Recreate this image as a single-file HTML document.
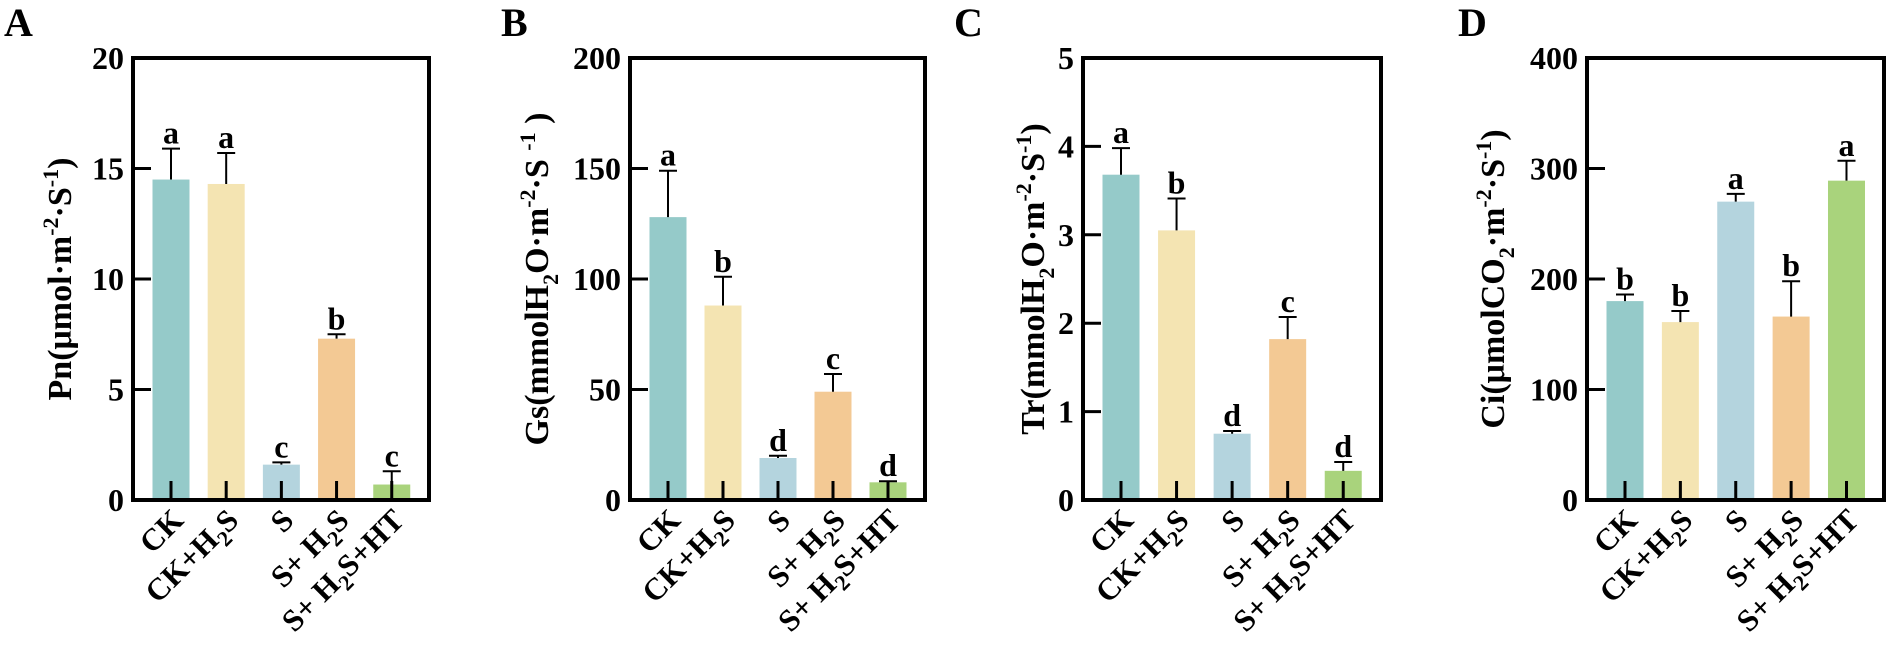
<!DOCTYPE html>
<html><head><meta charset="utf-8"><style>
html,body{margin:0;padding:0;background:#fff;width:1890px;height:654px;overflow:hidden}
svg{display:block;font-family:"Liberation Serif",serif;font-weight:bold}
</style></head><body>
<svg id="fig" width="1890" height="654" viewBox="0 0 1890 654" xmlns="http://www.w3.org/2000/svg"></svg>
<script>
const categories=["CK","CK+H2S","S","S+ H2S","S+ H2S+HT"];
const pnVals=[14.5,14.3,1.6,7.3,0.7];
const pnErr=[1.4,1.4,0.1,0.2,0.6];
const pnSig=["a","a","c","b","c"];
const gsVals=[128,88,19,49,8];
const gsErr=[21,13,1,8,0.5];
const gsSig=["a","b","d","c","d"];
const trVals=[3.68,3.05,0.75,1.82,0.33];
const trErr=[0.3,0.36,0.03,0.25,0.1];
const trSig=["a","b","d","c","d"];
const ciVals=[180,161,270,166,289];
const ciErr=[6,10,7,32,18];
const ciSig=["b","b","a","b","a"];
const pnTicks=[0,5,10,15,20];
const gsTicks=[0,50,100,150,200];
const trTicks=[0,1,2,3,4,5];
const ciTicks=[0,100,200,300,400];
const colors=["#95cac9","#f4e4b2","#b4d4de","#f3c994","#a9d37c"];
const NS="http://www.w3.org/2000/svg";
const svg=document.getElementById('fig');
function mk(tag,attrs,parent){const e=document.createElementNS(NS,tag);for(const k in attrs)e.setAttribute(k,attrs[k]);(parent||svg).appendChild(e);return e;}
const TOP=58,BOT=500;
const panels=[
 {id:"a",letter:"A",left:133,w:296,max:20,ticks:pnTicks,vals:pnVals,err:pnErr,sig:pnSig,tx:60,title:'Pn(μmol·m<tspan dy="-13" font-size="22">-2</tspan><tspan dy="13">·S</tspan><tspan dy="-13" font-size="22">-1</tspan><tspan dy="13">)</tspan>'},
 {id:"b",letter:"B",left:630,w:295,max:200,ticks:gsTicks,vals:gsVals,err:gsErr,sig:gsSig,tx:537,title:'Gs(mmolH<tspan dy="10" font-size="22">2</tspan><tspan dy="-10">O·m</tspan><tspan dy="-13" font-size="22">-2</tspan><tspan dy="13">·S </tspan><tspan dy="-13" font-size="22">-1</tspan><tspan dy="13"> )</tspan>'},
 {id:"c",letter:"C",left:1083,w:298,max:5,ticks:trTicks,vals:trVals,err:trErr,sig:trSig,tx:1033,title:'Tr(mmolH<tspan dy="10" font-size="22">2</tspan><tspan dy="-10">O·m</tspan><tspan dy="-13" font-size="22">-2</tspan><tspan dy="13">·S</tspan><tspan dy="-13" font-size="22">-1</tspan><tspan dy="13">)</tspan>'},
 {id:"d",letter:"D",left:1587,w:297,max:400,ticks:ciTicks,vals:ciVals,err:ciErr,sig:ciSig,tx:1493,title:'Ci(μmolCO<tspan dy="10" font-size="22">2</tspan><tspan dy="-10">·m</tspan><tspan dy="-13" font-size="22">-2</tspan><tspan dy="13">·S</tspan><tspan dy="-13" font-size="22">-1</tspan><tspan dy="13">)</tspan>'}
];
panels.forEach(p=>{
 const g=mk('g',{});
 
 
 const y=v=>BOT-(v/p.max)*(BOT-TOP);
 const x=i=>p.left+38+i*55*(p.w/295);
 const lt=mk('text',{x:p.left-129,y:36,'font-size':40},g);lt.textContent=p.letter;
 
 
 p.vals.forEach((v,i)=>{
  const cx=x(i);
  const b=mk('rect',{x:cx-18.5,y:y(v),width:37,height:BOT-y(v),fill:colors[i]},g);
  
  
  const et=y(v+p.err[i]);
  const e=mk('path',{d:`M${cx} ${y(v)}V${et}M${cx-9} ${et}H${cx+9}`,stroke:'#000','stroke-width':2,fill:'none'},g);
  
  
  const s=mk('text',{x:cx,y:et-5,'text-anchor':'middle','font-size':32},g);s.textContent=p.sig[i];
  
  
  mk('line',{x1:cx,x2:cx,y1:BOT,y2:BOT-19,stroke:'#000','stroke-width':3},g);
  const lab=mk('text',{transform:`translate(${cx+14},${522}) rotate(-45)`,'text-anchor':'end','font-size':31},g);
  const c=categories[i];
  if(c.includes('H2S')){const parts=c.split('H2S');lab.innerHTML=parts[0]+'H<tspan dy="8" font-size="22">2</tspan><tspan dy="-8">S</tspan>'+parts[1];}
  else lab.textContent=c;
  
  
 });
 p.ticks.forEach(t=>{
  const ty=y(t);
  mk('line',{x1:p.left,x2:p.left+18,y1:ty,y2:ty,stroke:'#000','stroke-width':3},g);
  const tl=mk('text',{x:p.left-9,y:ty+11,'text-anchor':'end','font-size':32},g);tl.textContent=t;
  
  
 });
 const box=mk('rect',{x:p.left,y:TOP,width:p.w,height:BOT-TOP,fill:'none',stroke:'#000','stroke-width':4},g);
 
 
 const yt=mk('text',{transform:`translate(${p.tx+11},${(TOP+BOT)/2}) rotate(-90)`,'text-anchor':'middle','font-size':34},g);
 yt.innerHTML=p.title;
 
 
});
</script>
</body></html>
